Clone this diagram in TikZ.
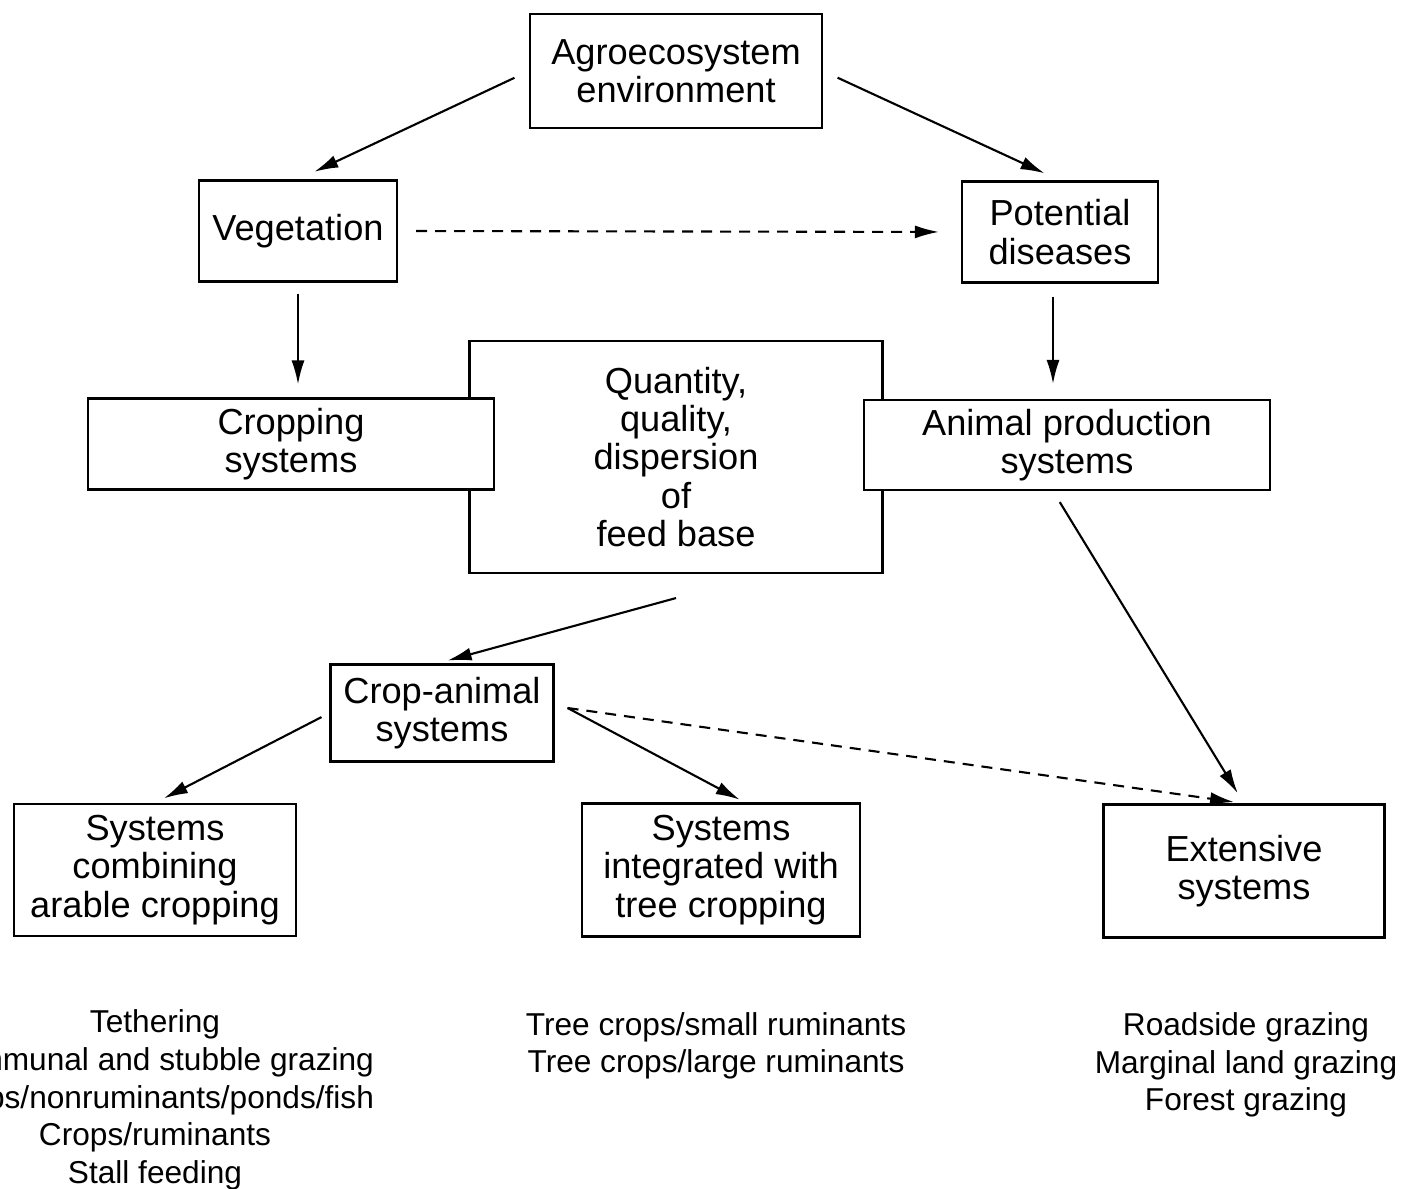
\documentclass[tikz,border=0pt]{standalone}
\usepackage{fontspec}
\setmainfont{Liberation Sans}
\usetikzlibrary{arrows.meta}

\tikzset{
  sysbox/.style={draw, line width=0.6pt, fill=white, align=center, inner sep=0pt,
    font=\fontsize{10.3}{10.9}\selectfont},
  flow/.style={line width=0.6pt, -{Latex[length=2.4mm,width=1.3mm]}},
  weak/.style={flow, dash pattern=on 1.1mm off 0.8mm},
  examples/.style={align=center, inner sep=0pt, font=\fontsize{9}{10.7}\selectfont}
}

\begin{document}
\begin{tikzpicture}[x=0.1mm, y=-0.1mm]
  \useasboundingbox (0,0) rectangle (1402,1189);
  \clip (0,0) rectangle (1402,1189);

  \node[sysbox, minimum width=29.2mm, minimum height=11.4mm] (agro) at (676,71) {Agroecosystem\\environment};
  \node[sysbox, minimum width=19.8mm, minimum height=10.1mm] (veg) at (298,231) {Vegetation};
  \node[sysbox, minimum width=19.6mm, minimum height=10.1mm] (pot) at (1060,232) {Potential\\diseases};
  \node[sysbox, minimum width=41.3mm, minimum height=23.2mm] (qty) at (676,457) {Quantity,\\quality,\\dispersion\\of\\feed base};
  \node[sysbox, minimum width=40.6mm, minimum height=9.1mm] (crop) at (291,444) {Cropping\\systems};
  \node[sysbox, minimum width=40.6mm, minimum height=9.0mm] (anim) at (1067,445) {Animal production\\systems};
  \node[sysbox, minimum width=22.3mm, minimum height=9.7mm] (ca) at (442,713) {Crop-animal\\systems};
  \node[sysbox, minimum width=28.2mm, minimum height=13.2mm] (comb) at (155,870) {Systems\\combining\\arable cropping};
  \node[sysbox, minimum width=27.8mm, minimum height=13.3mm] (integ) at (721,870) {Systems\\integrated with\\tree cropping};
  \node[sysbox, minimum width=28.1mm, minimum height=13.3mm] (ext) at (1244,871) {Extensive\\systems};

  \node[examples] (combex) at (155,1100) {Tethering\\Communal and stubble grazing\\Crops/nonruminants/ponds/fish\\Crops/ruminants\\Stall feeding};
  \node[examples] (integex) at (716,1046) {Tree crops/small ruminants\\Tree crops/large ruminants};
  \node[examples] (extex) at (1246,1065) {Roadside grazing\\Marginal land grazing\\Forest grazing};

  \draw[flow, shorten <=1.6mm, shorten >=1.8mm] (agro.west) -- (veg.north);
  \draw[flow, shorten <=1.6mm, shorten >=1.7mm] (agro.east) -- (pot.north);
  \draw[weak, shorten <=1.8mm, shorten >=2.2mm] (veg.east) -- (pot.west);
  \draw[flow, shorten <=1.1mm, shorten >=1.3mm] (veg.south) -- (veg.south |- crop.north);
  \draw[flow, shorten <=1.3mm, shorten >=1.5mm] ([xshift=-0.7mm]pot.south) -- ([xshift=-0.7mm]pot.south |- anim.north);
  \draw[flow, shorten >=1.1mm] ([yshift=-2.4mm]qty.south) -- ([xshift=-0.5mm]ca.north);
  \draw[flow, shorten <=0.9mm, shorten >=1mm] (ca.west) -- (comb.north);
  \coordinate (caout) at ([xshift=1.3mm,yshift=0.5mm]ca.east);
  \draw[flow, shorten >=0.6mm] (caout) -- ([xshift=2.4mm]integ.north);
  \draw[weak, shorten >=1mm] (caout) -- (ext.north);
  \draw[flow, shorten <=1.3mm, shorten >=1.2mm] ([xshift=-1.4mm]anim.south) -- (ext.north);
\end{tikzpicture}
\end{document}
